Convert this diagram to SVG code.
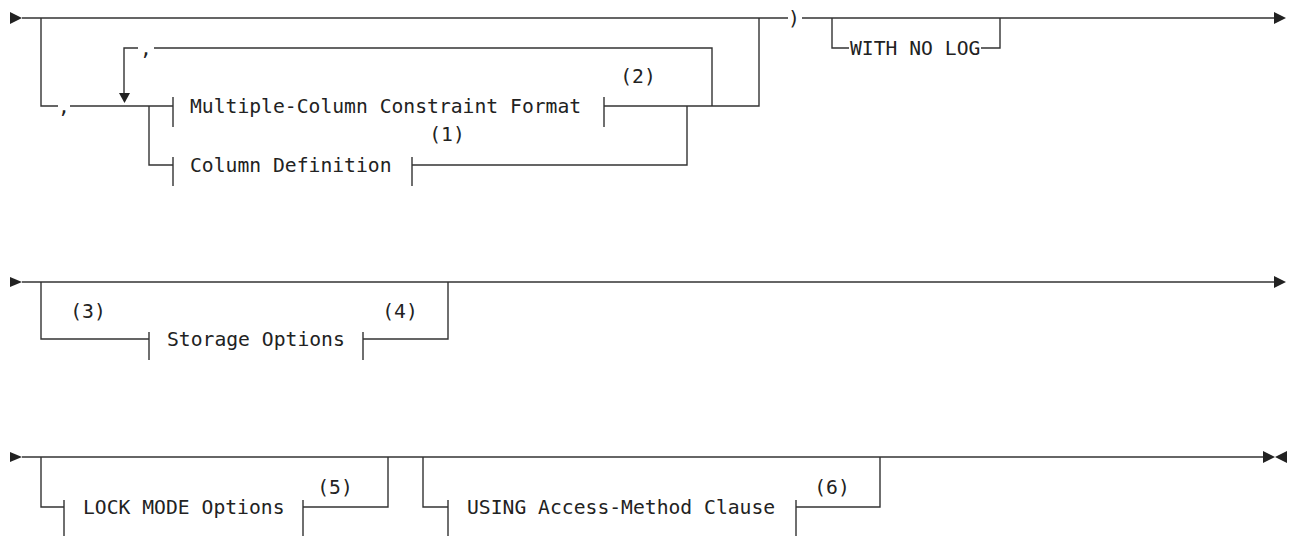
<svg xmlns="http://www.w3.org/2000/svg" width="1291" height="536" viewBox="0 0 1291 536">
  <style>
    .ln { fill: none; stroke: #333; stroke-width: 1.4; }
    .ah { fill: #222; stroke: none; }
    .t { font-family: "DejaVu Sans Mono", "Liberation Mono", monospace; font-size: 19.7px; fill: #222; }
    .m { text-anchor: middle; }
  </style>
  <rect width="1291" height="536" fill="#fff"/>

  <g id="connectors">
    <!-- Row 1 -->
    <path class="ln" d="M22 18 H788 M802 18 H1274"/>
    <path class="ln" d="M41 18 V106 H58 M70 106 H173"/>
    <path class="ln" d="M712 106 V48 H154 M138 48 H124 V95"/>
    <path class="ln" d="M149 106 V165 H173"/>
    <path class="ln" d="M604 106 H759 V18"/>
    <path class="ln" d="M412 165 H687 V106"/>
    <path class="ln" d="M832 18 V48 H849 M981 48 H1000 V18"/>
    <!-- Row 2 -->
    <path class="ln" d="M22 282 H1274"/>
    <path class="ln" d="M41 282 V339 H149 M363 339 H448 V282"/>
    <!-- Row 3 -->
    <path class="ln" d="M22 457 H1263"/>
    <path class="ln" d="M41 457 V507 H64 M303 507 H388 V457"/>
    <path class="ln" d="M423 457 V507 H448 M796 507 H880 V457"/>
    <!-- arrowheads -->
    <polygon class="ah" points="10,12 22,18 10,24"/>
    <polygon class="ah" points="1274,12 1286,18 1274,24"/>
    <polygon class="ah" points="119,93 130,93 124.5,103"/>
    <polygon class="ah" points="10,277 22,282 10,287"/>
    <polygon class="ah" points="1274,276 1286,282 1274,288"/>
    <polygon class="ah" points="10,452 22,457 10,462"/>
    <polygon class="ah" points="1263,451 1275,457 1263,463"/>
    <polygon class="ah" points="1287,451 1275,457 1287,463"/>
    <!-- separators -->
    <text class="t m" x="64" y="113">,</text>
    <text class="t m" x="146" y="55">,</text>
    <text class="t m" x="794" y="25">)</text>
  </g>

  <g id="node-multiple-column">
    <path class="ln" d="M173 97 V127 M604 97 V127"/>
    <text class="t" x="190" y="113">Multiple-Column Constraint Format</text>
    <text class="t m" x="638" y="83">(2)</text>
  </g>

  <g id="node-column-definition">
    <path class="ln" d="M173 157 V186 M412 157 V186"/>
    <text class="t" x="190" y="172">Column Definition</text>
    <text class="t m" x="447" y="141">(1)</text>
  </g>

  <g id="node-with-no-log">
    <text class="t" x="850" y="55">WITH NO LOG</text>
  </g>

  <g id="node-storage-options">
    <path class="ln" d="M149 332 V360 M363 332 V360"/>
    <text class="t" x="167" y="346">Storage Options</text>
    <text class="t m" x="88" y="318">(3)</text>
    <text class="t m" x="400" y="318">(4)</text>
  </g>

  <g id="node-lock-mode">
    <path class="ln" d="M64 500 V536 M303 500 V536"/>
    <text class="t" x="83" y="514">LOCK MODE Options</text>
    <text class="t m" x="335" y="494">(5)</text>
  </g>

  <g id="node-using-access-method">
    <path class="ln" d="M448 500 V536 M796 500 V536"/>
    <text class="t" x="467" y="514">USING Access-Method Clause</text>
    <text class="t m" x="832" y="494">(6)</text>
  </g>
</svg>
